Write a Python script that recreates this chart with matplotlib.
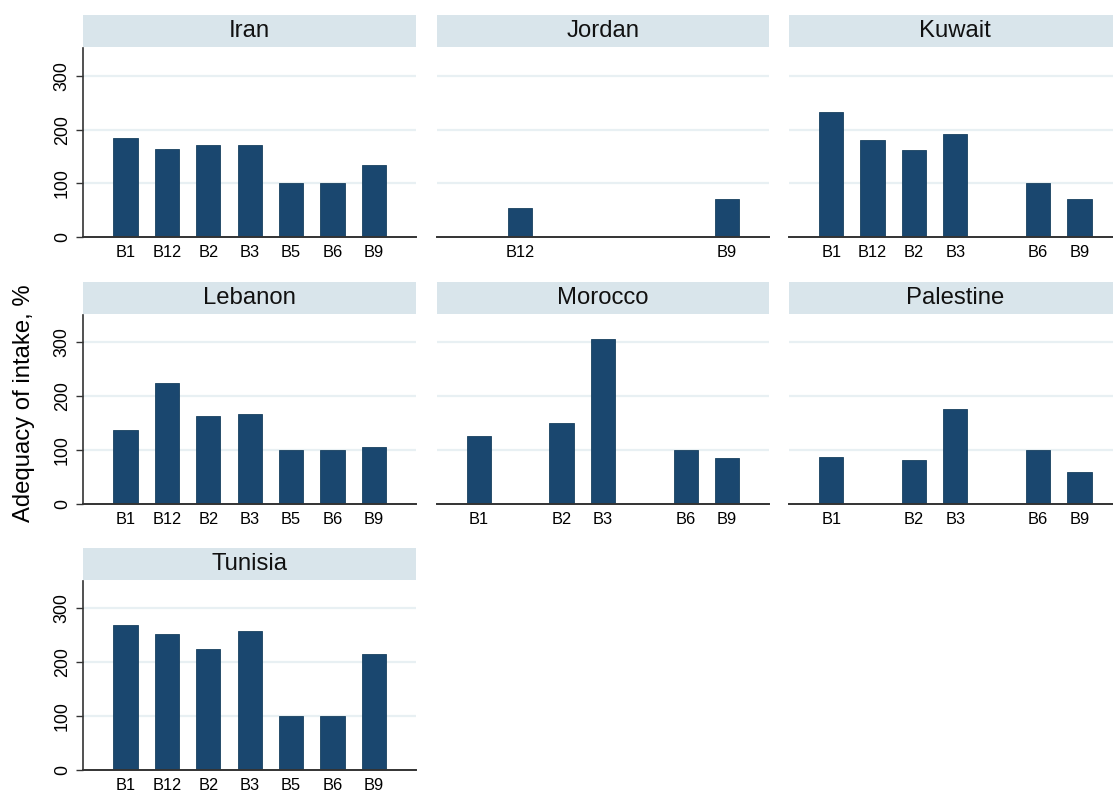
import numpy as np
import matplotlib
matplotlib.use("Agg")
import matplotlib.pyplot as plt
from matplotlib.patches import Rectangle

plt.rcParams['font.family'] = ['Liberation Sans', 'DejaVu Sans']

# Vitamin categories (shared x slots) and adequacy of intake (%) per country
vitamins = ["B1", "B12", "B2", "B3", "B5", "B6", "B9"]
countries = ["Iran", "Jordan", "Kuwait", "Lebanon", "Morocco", "Palestine", "Tunisia"]

iran = [185, 164, 171, 172, 100, 100, 134]
jordan = [None, 55, None, None, None, None, 71]
kuwait = [233, 180, 162, 192, None, 100, 72]
lebanon = [138, 224, 164, 168, 100, 100, 106]
morocco = [126, None, 150, 307, None, 100, 86]
palestine = [87, None, 81, 177, None, 100, 60]
tunisia = [269, 253, 224, 258, 100, 100, 216]

values = [iran, jordan, kuwait, lebanon, morocco, palestine, tunisia]
y_ticks = [0, 100, 200, 300]

BAR = "#1a476f"
STRIP = "#d9e5eb"
GRID = "#e8f0f3"
AXIS = "#333333"

W, H = 1113, 793
fig = plt.figure(figsize=(W / 100, H / 100), dpi=100)

col_left = [83.3, 436.5, 789.0]
panel_w = 332.7
row_top = [48.3, 315.0, 581.0]
panel_h = 189.0
strip_h = 32.0
strip_gap = 1.0

x = np.arange(len(vitamins))

for i, (name, vals) in enumerate(zip(countries, values)):
    r, c = divmod(i, 3)
    left = col_left[c] / W
    bottom = 1 - (row_top[r] + panel_h) / H
    ax = fig.add_axes([left, bottom, panel_w / W, panel_h / H])

    xs = [xi for xi, v in zip(x, vals) if v is not None]
    ys = [v for v in vals if v is not None]
    labs = [lab for lab, v in zip(vitamins, vals) if v is not None]

    ax.set_axisbelow(True)
    for t in y_ticks[1:]:
        ax.axhline(t, color=GRID, lw=1.6, zorder=0)
    ax.bar(xs, ys, width=0.585, color=BAR, edgecolor="#17405f", lw=0.6, zorder=2)

    ax.set_xlim(-1.02, 7.02)
    ax.set_ylim(0, 351)
    ax.set_xticks(xs)
    ax.set_xticklabels(labs, fontsize=11.8)
    ax.tick_params(axis='x', length=0, pad=5.5)

    for s in ("top", "right"):
        ax.spines[s].set_visible(False)
    ax.spines["bottom"].set_color(AXIS)
    ax.spines["bottom"].set_linewidth(1.4)

    if c == 0:
        ax.spines["left"].set_color(AXIS)
        ax.spines["left"].set_linewidth(1.2)
        ax.set_yticks(y_ticks)
        ax.set_yticklabels([str(t) for t in y_ticks], rotation=90, va="center",
                           fontsize=12.8)
        ax.tick_params(axis='y', length=5, width=1, color=AXIS, pad=4)
    else:
        ax.spines["left"].set_visible(False)
        ax.set_yticks([])

    # header strip above the panel
    hfrac = strip_h / panel_h
    gfrac = strip_gap / panel_h
    ax.add_patch(Rectangle((0, 1 + gfrac), 1, hfrac, transform=ax.transAxes,
                           facecolor=STRIP, edgecolor="none", clip_on=False))
    ax.text(0.5, 1 + gfrac + hfrac / 2, name, transform=ax.transAxes,
            ha="center", va="center", fontsize=17.2, color="#111111")

fig.text(24 / W, 1 - 403 / H, "Adequacy of intake, %", rotation=90,
         ha="center", va="center", fontsize=17.2)

fig.savefig("out.png", dpi=100)
